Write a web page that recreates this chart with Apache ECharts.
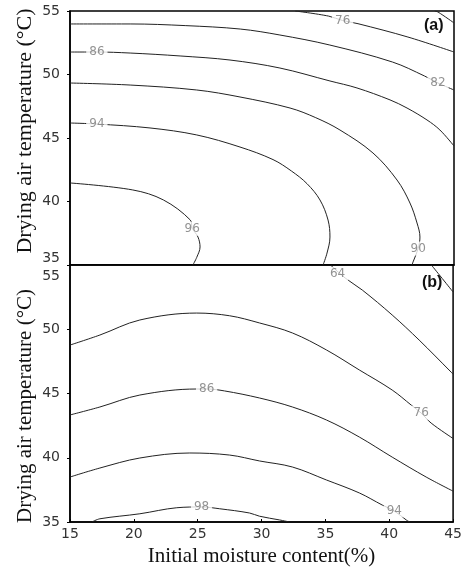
<!DOCTYPE html>
<html>
<head>
<meta charset="utf-8">
<script src="https://cdn.jsdelivr.net/npm/echarts@6/dist/echarts.min.js"></script>
<style>html,body{margin:0;padding:0;background:#fff}#c{width:465px;height:569px}</style>
</head>
<body>
<div id="c"></div>
<script>
// ---- tick labels ----
const xTicks = [15, 20, 25, 30, 35, 40, 45];
const yTicks = [35, 40, 45, 50, 55];

// ---- panel (a) contours: [moisture %, temperature °C] ----
const a70 = [[43.5,55],[43.75,54.92],[45,54.06]];
const a76 = [[32.6,55],[35.2,54.6],[36.3,54.25],[37.5,54.0],[41.4,52.95],[45,51.77]];
const a82 = [[15,53.98],[19.7,53.98],[24,53.85],[28.3,53.58],[31.4,53.11],[35.3,52.32],[40.2,50.98],[42.7,49.88],[43.75,49.33],[45,48.78]];
const a86 = [[15,51.77],[17.1,51.77],[19.7,51.69],[23.6,51.46],[27.5,51.14],[31.4,50.51],[35.31,49.49],[37.42,48.94],[40.0,48.0],[41.33,47.36],[42.89,46.42],[43.9,45.63],[45,44.37]];
const a90 = [[15,49.33],[19.7,49.17],[24.9,48.78],[28.28,48.23],[32.19,47.36],[34.2,46.6],[36.09,45.63],[38.67,43.82],[40.55,41.69],[41.56,39.88],[42.11,38.31],[42.34,37.2],[42.2,36.3],[41.8,35.24],[41.72,35]];
const a94 = [[15,46.18],[17.1,46.1],[21.25,45.79],[24.9,45.24],[28.28,44.29],[30.86,43.3],[32.3,42.4],[33.52,41.4],[34.53,40.12],[35.16,38.54],[35.31,37.2],[35.08,35.94],[34.77,35]];
const a96 = [[15,41.46],[19.9,40.91],[22.3,40.12],[24.4,38.54],[24.55,37.9],[25.0,37.2],[25.16,36.42],[24.9,35.6],[24.6,35]];
const labelsA = [[36.3,54.25,'76'],[43.75,49.33,'82'],[17.1,51.77,'86'],[42.2,36.3,'90'],[17.1,46.12,'94'],[24.55,37.85,'96']];

// ---- panel (b) contours ----
const b58 = [[43.3,55],[45,52.9]];
const b64 = [[35.4,55],[36.6,53.95],[37.89,53.05],[40.23,51.11],[42.34,49.16],[44.84,46.67],[45,46.5]];
const b76 = [[15,48.77],[17.34,49.55],[20.47,50.72],[24.92,51.26],[27.5,51.05],[29.84,50.49],[32.42,49.71],[35.08,48.39],[37.66,46.83],[40.23,45.27],[41.72,44.1],[42.5,43.48],[43.28,42.7],[45,41.5]];
const b86 = [[15,43.33],[17.34,43.95],[20.47,44.88],[24.92,45.35],[25.7,45.35],[27.1,45.2],[29.84,44.65],[32.42,43.95],[35.08,42.94],[37.66,41.61],[40.23,40.05],[42.89,38.5],[45,37.4]];
const b94 = [[15,38.5],[17.34,39.2],[20.47,39.98],[24.38,40.37],[27.5,40.21],[29.84,39.75],[32.42,39.28],[35.08,38.27],[37.66,37.26],[39.45,36.32],[40.39,35.86],[41.33,35.16],[41.6,35]];
const b98 = [[16.72,35],[17.34,35.25],[20.47,35.64],[23.36,36.11],[25.31,36.17],[26.72,36.03],[29.06,35.7],[29.84,35.45],[31.41,35.16],[32.2,35]];
const labelsB = [[35.95,54.3,'64'],[42.5,43.5,'76'],[25.7,45.35,'86'],[40.4,35.9,'94'],[25.3,36.15,'98']];

const contoursA = [a70, a76, a82, a86, a90, a94, a96];
const contoursB = [b58, b64, b76, b86, b94, b98];

const yTitle = 'Drying air temperature (°C)';
const xTitle = 'Initial moisture content(%)';

const tickFont = {fontFamily: 'DejaVu Sans', fontSize: 14, color: '#333'};

function lineSeries(data, idx) {
  return {
    type: 'line', xAxisIndex: idx, yAxisIndex: idx, data: data,
    smooth: 0.35, symbol: 'none', silent: true, clip: true,
    lineStyle: {color: '#222', width: 1}, z: 2
  };
}
function labelSeries(data, idx) {
  return {
    type: 'scatter', xAxisIndex: idx, yAxisIndex: idx, data: data,
    symbolSize: 1, itemStyle: {color: 'rgba(0,0,0,0)'}, silent: true, z: 5,
    label: {
      show: true, position: 'inside', formatter: p => p.value[2],
      fontFamily: 'DejaVu Sans', fontSize: 12, color: '#777',
      backgroundColor: '#fff', padding: [1, 3]
    }
  };
}

const yMin = yTicks[0], yMax = yTicks[yTicks.length - 1];
const xMin = xTicks[0], xMax = xTicks[xTicks.length - 1];

function yAxis(idx, shiftFirst, shiftLast) {
  return {
    type: 'value', gridIndex: idx, min: yMin, max: yMax, interval: 5,
    axisLine: {show: true, lineStyle: {color: '#000', width: 1.5}},
    axisTick: {show: true, length: 3, lineStyle: {color: '#000'}},
    splitLine: {show: false},
    axisLabel: Object.assign({}, tickFont, {
      margin: 10,
      formatter: v => {
        if (v === yMin && shiftFirst) return '{up|' + v + '}';
        if (v === yMax && shiftLast) return '{down|' + v + '}';
        return String(v);
      },
      rich: {
        up: Object.assign({}, tickFont, {padding: [0, 0, 14, 0]}),
        down: Object.assign({}, tickFont, {padding: [22, 0, 0, 0]})
      }
    })
  };
}

const option = {
  animation: false,
  backgroundColor: '#fff',
  title: [
    {text: '(a)', left: 419, top: 13, textStyle: {fontFamily: 'Liberation Sans', fontSize: 16, fontWeight: 'bold', color: '#111'}},
    {text: '(b)', left: 417, top: 270, textStyle: {fontFamily: 'Liberation Sans', fontSize: 16, fontWeight: 'bold', color: '#111'}}
  ],
  graphic: [
    {type: 'text', x: 25, y: 131, rotation: Math.PI / 2,
     style: {text: yTitle, font: '22px "Liberation Serif"', fill: '#111', textAlign: 'center', textVerticalAlign: 'middle'}},
    {type: 'text', x: 25, y: 406, rotation: Math.PI / 2,
     style: {text: yTitle, font: '21px "Liberation Serif"', fill: '#111', textAlign: 'center', textVerticalAlign: 'middle'}}
  ],
  grid: [
    {left: 70, right: 11, top: 11, height: 254, show: true, borderColor: '#000', borderWidth: 1.5, backgroundColor: '#fff'},
    {left: 70, right: 11, top: 265, height: 257, show: true, borderColor: '#000', borderWidth: 1.5, backgroundColor: '#fff'}
  ],
  xAxis: [
    {type: 'value', gridIndex: 0, min: xMin, max: xMax, interval: 5,
     axisLabel: {show: false}, axisTick: {show: false}, splitLine: {show: false},
     axisLine: {show: true, lineStyle: {color: '#000', width: 1.5}}},
    {type: 'value', gridIndex: 1, min: xMin, max: xMax, interval: 5,
     name: xTitle, nameLocation: 'middle', nameGap: 24,
     nameTextStyle: {fontFamily: 'Liberation Serif', fontSize: 21, color: '#111'},
     axisLabel: Object.assign({}, tickFont, {margin: 5}),
     axisTick: {show: true, inside: true, length: 3, lineStyle: {color: '#000'}},
     splitLine: {show: false},
     axisLine: {show: true, lineStyle: {color: '#000', width: 1.5}}}
  ],
  yAxis: [yAxis(0, true, false), yAxis(1, false, true)],
  series: [].concat(
    contoursA.map(d => lineSeries(d, 0)),
    contoursB.map(d => lineSeries(d, 1)),
    [labelSeries(labelsA, 0), labelSeries(labelsB, 1)]
  )
};

const chart = echarts.init(document.getElementById('c'), null, {renderer: 'canvas'});
chart.setOption(option);
</script>
</body>
</html>
